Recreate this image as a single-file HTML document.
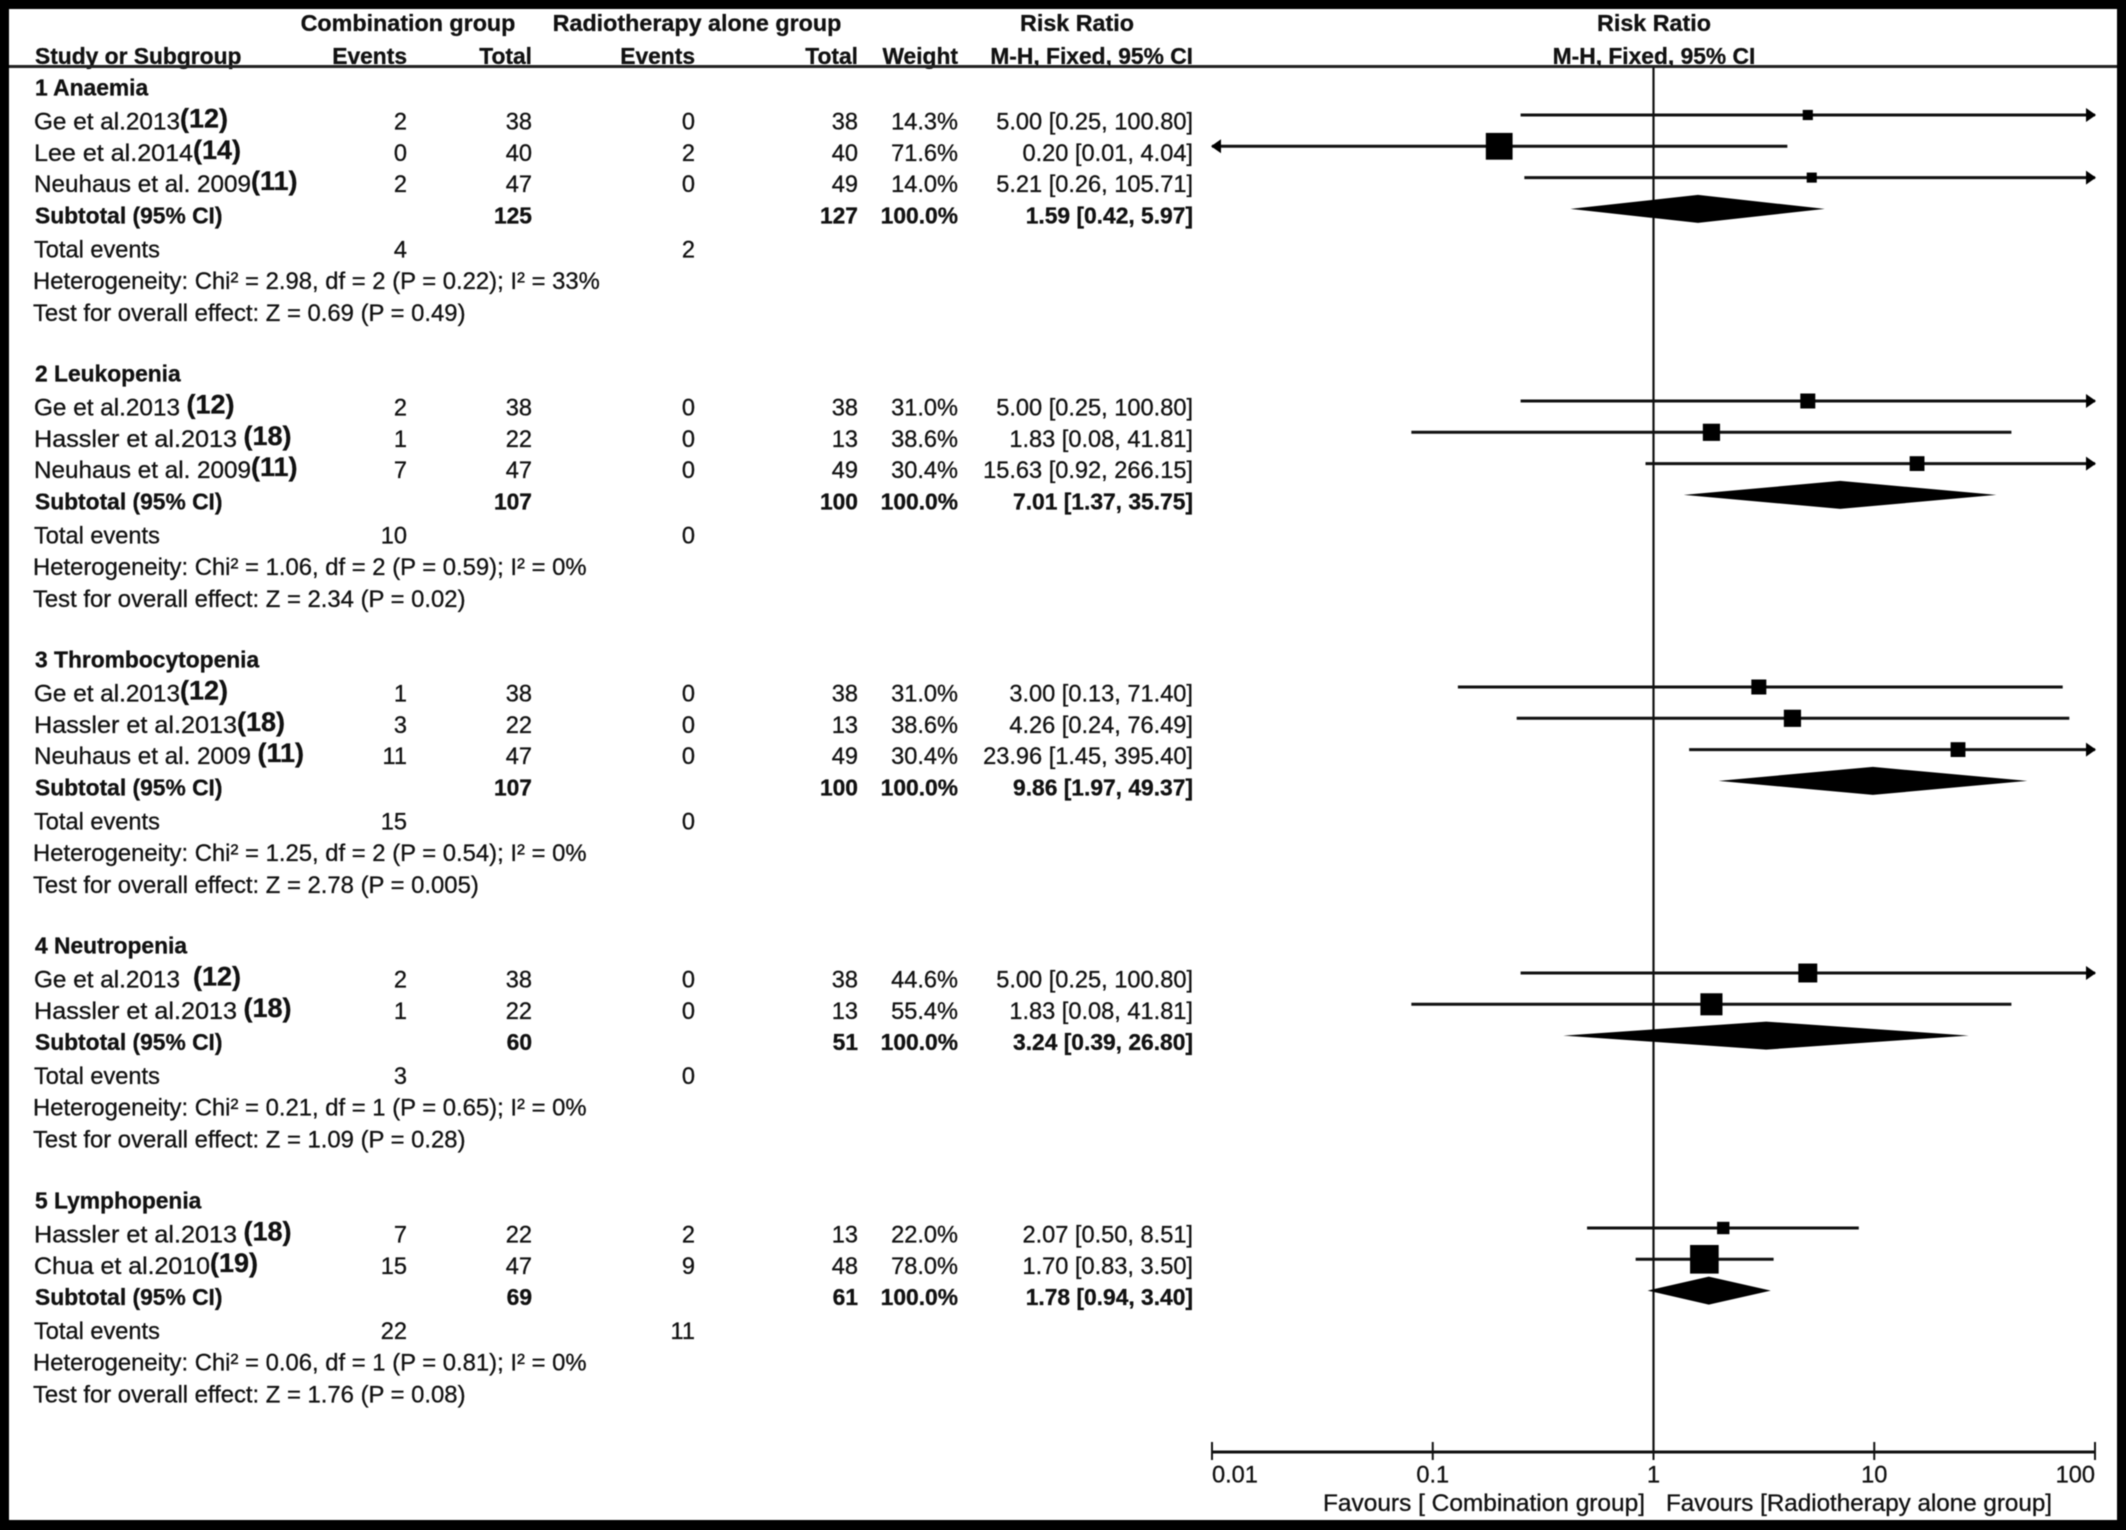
<!DOCTYPE html>
<html lang="en">
<head>
<meta charset="utf-8">
<title>Forest plot of haematologic toxicity</title>
<style>
html,body{margin:0;padding:0;background:#000;width:2126px;height:1530px;overflow:hidden}
svg{display:block;filter:blur(0.55px)}
text{font-family:"Liberation Sans",Arial,sans-serif;font-size:23.6px;fill:#111;stroke:#111;stroke-width:0.3px}
.b{font-weight:bold;font-size:22.8px}
.h{font-weight:bold;font-size:23.3px}
.c{font-weight:bold;font-size:27px}
.n{font-size:23.85px}
</style>
</head>
<body>
<svg id="plot" xmlns="http://www.w3.org/2000/svg" width="2126" height="1530" viewBox="0 0 2126 1530">
<rect x="0" y="0" width="2126" height="1530" fill="#000"/>
<rect x="9" y="9" width="2108" height="1511" fill="#fff"/>
<text class="h" x="408" y="31" text-anchor="middle">Combination group</text>
<text class="h" x="697" y="31" text-anchor="middle">Radiotherapy alone group</text>
<text class="h" x="1077" y="31" text-anchor="middle">Risk Ratio</text>
<text class="h" x="1654" y="31" text-anchor="middle">Risk Ratio</text>
<text class="b" x="35" y="64">Study or Subgroup</text>
<text class="b" x="407" y="64" text-anchor="end">Events</text>
<text class="b" x="532" y="64" text-anchor="end">Total</text>
<text class="b" x="695" y="64" text-anchor="end">Events</text>
<text class="b" x="858" y="64" text-anchor="end">Total</text>
<text class="b" x="958" y="64" text-anchor="end">Weight</text>
<text class="b" x="1193" y="64" text-anchor="end">M-H, Fixed, 95% CI</text>
<text class="b" x="1654" y="64" text-anchor="middle">M-H, Fixed, 95% CI</text>
<rect x="9" y="65" width="2108" height="3" fill="#222"/>
<g id="rows"></g>
<g id="marks"></g>
<g id="axis"></g>
<text x="1323" y="1511" textLength="322" lengthAdjust="spacingAndGlyphs">Favours [ Combination group]</text>
<text x="1666" y="1511" textLength="386" lengthAdjust="spacingAndGlyphs">Favours [Radiotherapy alone group]</text>
</svg>
<script>
const subgroupNames = ["1 Anaemia","2 Leukopenia","3 Thrombocytopenia","4 Neutropenia","5 Lymphopenia"];
const studyGroup = [0,0,0,1,1,1,2,2,2,3,3,4,4];
const studyNames = ["Ge et al.2013","Lee et al.2014","Neuhaus et al. 2009","Ge et al.2013 ","Hassler et al.2013 ","Neuhaus et al. 2009","Ge et al.2013","Hassler et al.2013","Neuhaus et al. 2009 ","Ge et al.2013  ","Hassler et al.2013 ","Hassler et al.2013 ","Chua et al.2010"];
const studyCitations = ["(12)","(14)","(11)","(12)","(18)","(11)","(12)","(18)","(11)","(12)","(18)","(18)","(19)"];
const eventsA = [2,0,2,2,1,7,1,3,11,2,1,7,15];
const totalsA = [38,40,47,38,22,47,38,22,47,38,22,22,47];
const eventsB = [0,2,0,0,0,0,0,0,0,0,0,2,9];
const totalsB = [38,40,49,38,13,49,38,13,49,38,13,13,48];
const studyWeights = [14.3,71.6,14.0,31.0,38.6,30.4,31.0,38.6,30.4,44.6,55.4,22.0,78.0];
const studyRatios = [5.00,0.20,5.21,5.00,1.83,15.63,3.00,4.26,23.96,5.00,1.83,2.07,1.70];
const studyLows = [0.25,0.01,0.26,0.25,0.08,0.92,0.13,0.24,1.45,0.25,0.08,0.50,0.83];
const studyHighs = [100.80,4.04,105.71,100.80,41.81,266.15,71.40,76.49,395.40,100.80,41.81,8.51,3.50];
const subtotalA = [125,107,107,60,69];
const subtotalB = [127,100,100,51,61];
const subtotalRatios = [1.59,7.01,9.86,3.24,1.78];
const subtotalLows = [0.42,1.37,1.97,0.39,0.94];
const subtotalHighs = [5.97,35.75,49.37,26.80,3.40];
const totalEventsA = [4,10,15,3,22];
const totalEventsB = [2,0,0,0,11];
const heterogeneityNotes = ["Heterogeneity: Chi² = 2.98, df = 2 (P = 0.22); I² = 33%","Heterogeneity: Chi² = 1.06, df = 2 (P = 0.59); I² = 0%","Heterogeneity: Chi² = 1.25, df = 2 (P = 0.54); I² = 0%","Heterogeneity: Chi² = 0.21, df = 1 (P = 0.65); I² = 0%","Heterogeneity: Chi² = 0.06, df = 1 (P = 0.81); I² = 0%"];
const effectNotes = ["Test for overall effect: Z = 0.69 (P = 0.49)","Test for overall effect: Z = 2.34 (P = 0.02)","Test for overall effect: Z = 2.78 (P = 0.005)","Test for overall effect: Z = 1.09 (P = 0.28)","Test for overall effect: Z = 1.76 (P = 0.08)"];
const axisTicks = [0.01,0.1,1,10,100];
const axisTickLabels = ["0.01","0.1","1","10","100"];

const NS = "http://www.w3.org/2000/svg";
const rowsLayer = document.getElementById("rows");
const marksLayer = document.getElementById("marks");
const axisLayer = document.getElementById("axis");
const AXIS_MIN = 0.01, AXIS_MAX = 100;
const AXIS_X0 = 1212, AXIS_X1 = 2095, AXIS_Y = 1452, TOP_Y = 67;
function xScale(v){
  const t = (Math.log10(v) - Math.log10(AXIS_MIN)) / (Math.log10(AXIS_MAX) - Math.log10(AXIS_MIN));
  return AXIS_X0 + t * (AXIS_X1 - AXIS_X0);
}
function clampX(v){
  return Math.min(AXIS_X1, Math.max(AXIS_X0, xScale(v)));
}
function addText(parent, str, x, centerY, anchor, cls, name){
  const el = document.createElementNS(NS, "text");
  el.setAttribute("x", x);
  el.setAttribute("y", centerY + 8.5);
  el.setAttribute("text-anchor", anchor);
  if (cls) el.setAttribute("class", cls);
  
  
  el.textContent = str;
  parent.appendChild(el);
  return el;
}
function addLine(parent, x1, y1, x2, y2, w, name){
  const el = document.createElementNS(NS, "line");
  el.setAttribute("x1", x1);
  el.setAttribute("y1", y1);
  el.setAttribute("x2", x2);
  el.setAttribute("y2", y2);
  el.setAttribute("stroke", "#111");
  el.setAttribute("stroke-width", w);
  
  
  parent.appendChild(el);
  return el;
}
function addPolygon(parent, pts, name){
  const el = document.createElementNS(NS, "polygon");
  el.setAttribute("points", pts.map(function(p){return p.join(",");}).join(" "));
  el.setAttribute("fill", "#000");
  
  
  parent.appendChild(el);
  return el;
}
function ciLabel(r, lo, hi){
  return r.toFixed(2) + " [" + lo.toFixed(2) + ", " + hi.toFixed(2) + "]";
}

const GROUP_TOP = [87, 373, 659, 945, 1200];
const COL_NAME = 34, COL_EA = 407, COL_TA = 532, COL_EB = 695, COL_TB = 858, COL_W = 958, COL_CI = 1193;
const ROW_PITCH = 31.3;
const NAME_WIDTH_BY_AUTHOR = {Ge:146, Lee:159, Neuhaus:217, Hassler:203, Chua:176};
const CITE_GAP = 6.5;

addLine(marksLayer, xScale(1), TOP_Y, xScale(1), AXIS_Y, 2.2, "no-effect-line");

subgroupNames.forEach(function(groupName, g){
  const top = GROUP_TOP[g];
  addText(rowsLayer, groupName, COL_NAME + 1, top, "start", "b", "subgroup-title");
  let y = top + 34;
  studyNames.forEach(function(name, i){
    if (studyGroup[i] !== g) return;
    const clean = name.trim();
    const nameW = NAME_WIDTH_BY_AUTHOR[clean.split(" ")[0]];
    const gaps = name.length - clean.length;
    const label = addText(rowsLayer, clean, COL_NAME, y, "start", "", "study-label");
    label.setAttribute("textLength", nameW);
    label.setAttribute("lengthAdjust", "spacingAndGlyphs");
    addText(rowsLayer, studyCitations[i], COL_NAME + nameW + gaps * CITE_GAP, y - 2, "start", "c", "study-citation");
    addText(rowsLayer, String(eventsA[i]), COL_EA, y, "end", "", "events-combination");
    addText(rowsLayer, String(totalsA[i]), COL_TA, y, "end", "", "total-combination");
    addText(rowsLayer, String(eventsB[i]), COL_EB, y, "end", "", "events-radiotherapy");
    addText(rowsLayer, String(totalsB[i]), COL_TB, y, "end", "", "total-radiotherapy");
    addText(rowsLayer, studyWeights[i].toFixed(1) + "%", COL_W, y, "end", "", "study-weight");
    addText(rowsLayer, ciLabel(studyRatios[i], studyLows[i], studyHighs[i]), COL_CI, y, "end", "", "study-risk-ratio");

    const my = y - 6;
    const xa = clampX(studyLows[i]);
    const xb = clampX(studyHighs[i]);
    addLine(marksLayer, xa, my, xb, my, 3, "study-ci-line");
    if (studyHighs[i] >= AXIS_MAX) {
      addPolygon(marksLayer, [[AXIS_X1 + 1, my], [AXIS_X1 - 9, my - 7], [AXIS_X1 - 9, my + 7]], "ci-arrow-right");
    }
    if (studyLows[i] <= AXIS_MIN) {
      addPolygon(marksLayer, [[AXIS_X0 - 1, my], [AXIS_X0 + 9, my - 7], [AXIS_X0 + 9, my + 7]], "ci-arrow-left");
    }
    const side = 6 + 0.29 * studyWeights[i];
    const sq = document.createElementNS(NS, "rect");
    sq.setAttribute("x", xScale(studyRatios[i]) - side / 2);
    sq.setAttribute("y", my - side / 2);
    sq.setAttribute("width", side);
    sq.setAttribute("height", side);
    sq.setAttribute("fill", "#000");
    
    
    marksLayer.appendChild(sq);
    y += ROW_PITCH;
  });
  addText(rowsLayer, "Subtotal (95% CI)", COL_NAME + 1, y, "start", "b", "subtotal-label");
  addText(rowsLayer, String(subtotalA[g]), COL_TA, y, "end", "b", "subtotal-combination");
  addText(rowsLayer, String(subtotalB[g]), COL_TB, y, "end", "b", "subtotal-radiotherapy");
  addText(rowsLayer, "100.0%", COL_W, y, "end", "b", "subtotal-weight");
  addText(rowsLayer, ciLabel(subtotalRatios[g], subtotalLows[g], subtotalHighs[g]), COL_CI, y, "end", "b", "subtotal-risk-ratio");
  const dy = y - 6;
  addPolygon(marksLayer, [[xScale(subtotalLows[g]), dy], [xScale(subtotalRatios[g]), dy - 14], [xScale(subtotalHighs[g]), dy], [xScale(subtotalRatios[g]), dy + 14]], "subtotal-diamond");
  const ty = y + 34;
  addText(rowsLayer, "Total events", COL_NAME, ty, "start", "", "total-events-label");
  addText(rowsLayer, String(totalEventsA[g]), COL_EA, ty, "end", "", "total-events-combination");
  addText(rowsLayer, String(totalEventsB[g]), COL_EB, ty, "end", "", "total-events-radiotherapy");
  addText(rowsLayer, heterogeneityNotes[g], COL_NAME - 1, ty + 31.5, "start", "n", "heterogeneity-note");
  addText(rowsLayer, effectNotes[g], COL_NAME - 1, ty + 63.5, "start", "n", "overall-effect-note");
});

addLine(axisLayer, AXIS_X0, AXIS_Y, AXIS_X1, AXIS_Y, 3, "axis-line");
axisTicks.forEach(function(t, i){
  const x = xScale(t);
  addLine(axisLayer, x, AXIS_Y - 10, x, AXIS_Y + 8, 2, "axis-tick");
  const first = i === 0;
  const last = i === axisTicks.length - 1;
  addText(axisLayer, axisTickLabels[i], x, 1474, first ? "start" : (last ? "end" : "middle"), "", "axis-tick-label");
});
</script>
</body>
</html>
